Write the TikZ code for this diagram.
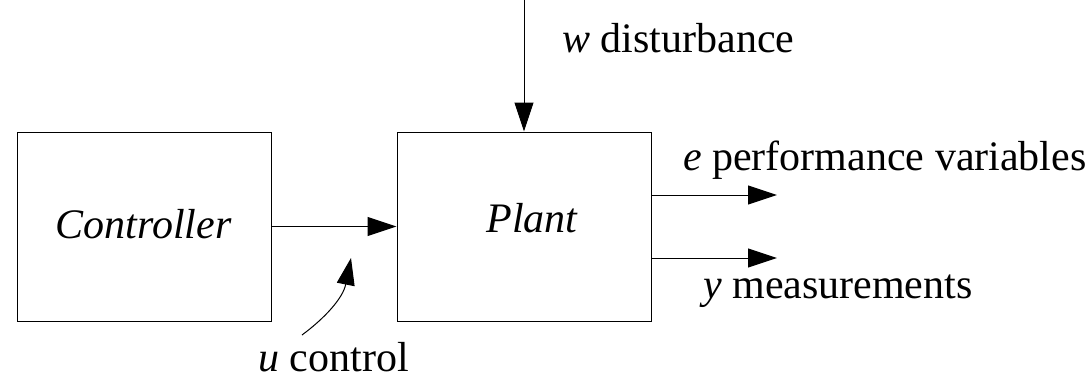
\documentclass[tikz,border=0pt]{standalone}
\usepackage{fontspec}
\setmainfont{Liberation Serif}
\usetikzlibrary{arrows.meta}
\tikzset{
  blockbox/.style={draw, line width=1pt, minimum width=254pt, minimum height=189pt, inner sep=0pt},
  lbl/.style={inner sep=0pt, anchor=base west, font=\fontsize{42}{50}\selectfont},
  ctext/.style={inner sep=0pt, anchor=base, font=\fontsize{42}{50}\selectfont\itshape},
  sig/.style={line width=1pt, -{Triangle[length=29pt,width=19pt]}},
}
\begin{document}
\begin{tikzpicture}[x=1pt,y=-1pt]
\useasboundingbox (0,0) rectangle (1088,378);
\node[blockbox] (ctrl) at (144,226.5) {};
\node[blockbox] (plant) at (524,226.5) {};
\node[ctext] (ctrltxt) at (143.5,238) {Controller};
\node[ctext] (planttxt) at (532,232) {Plant};
% control
\draw[sig] (ctrl.east) -- (plant.west);
% disturbance
\coordinate (wtop) at (524,0);
\draw[sig] (wtop) -- (plant.north);
\node[lbl] (wlbl) at (562,52) {\textit{w} disturbance};
% outputs
\coordinate (eend) at (777,195);
\coordinate (yend) at (777,258);
\draw[sig] (plant.east |- eend) -- (eend);
\draw[sig] (plant.east |- yend) -- (yend);
\node[lbl] (elbl) at (683,170) {\textit{e} performance variables};
\node[lbl] (ylbl) at (703,298) {\textit{y} measurements};
% u label
\coordinate (ustart) at (302,335);
\coordinate (utip) at (351,258);
\draw[line width=1pt, -{Triangle[length=27pt,width=18pt]}] (ustart) .. controls (325,318) and (343,298) .. (utip);
\node[lbl] (ulbl) at (258,371) {\textit{u} control};
\end{tikzpicture}
\end{document}
